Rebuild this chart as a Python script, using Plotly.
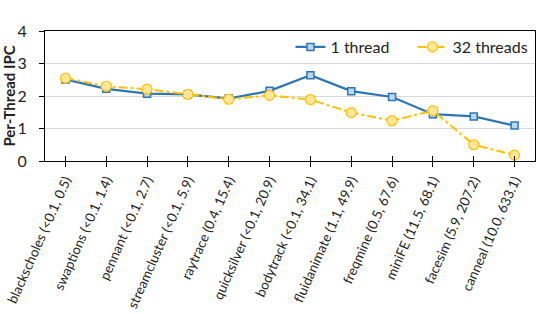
import plotly.graph_objects as go

categories = ["blackscholes (<0.1, 0.5)", "swaptions (<0.1, 1.4)", "pennant (<0.1, 2.7)",
              "streamcluster (<0.1, 5.9)", "raytrace (0.4, 15.4)", "quicksilver (<0.1, 20.9)",
              "bodytrack (<0.1, 34.1)", "fluidanimate (1.1, 49.9)", "freqmine (0.5, 67.6)",
              "miniFE (11.5, 68.1)", "facesim (5.9, 207.2)", "canneal (10.0, 633.1)"]
one_thread = [2.51, 2.22, 2.07, 2.05, 1.92, 2.16, 2.64, 2.15, 1.97, 1.44, 1.37, 1.09]
thirty_two = [2.55, 2.30, 2.21, 2.05, 1.90, 2.02, 1.89, 1.49, 1.24, 1.55, 0.50, 0.18]
y_ticks = [0, 1, 2, 3, 4]

FONT = "Lato, Open Sans, sans-serif"
BLUE = "#2e75b6"
YEL = "#ffc000"

fig = go.Figure()
fig.add_trace(go.Scatter(
    x=categories, y=one_thread, name="1 thread", mode="lines+markers",
    line=dict(color=BLUE, width=2.25),
    marker=dict(symbol="square", size=7, color="#bdd7ee", line=dict(color=BLUE, width=1.5)),
))
fig.add_trace(go.Scatter(
    x=categories, y=thirty_two, name="32 threads", mode="lines+markers",
    line=dict(color=YEL, width=2, dash="dashdot"),
    marker=dict(symbol="circle", size=10, color="#ffe699", line=dict(color=YEL, width=1.2)),
))

fig.update_layout(
    width=538, height=314,
    margin=dict(l=45, r=3, t=31, b=153),
    paper_bgcolor="white", plot_bgcolor="white",
    font=dict(family=FONT, size=14, color="#222"),
    showlegend=True,
    legend=dict(orientation="h", x=0.999, y=0.877, xanchor="right", yanchor="middle",
                bgcolor="rgba(0,0,0,0)", font=dict(size=16, family=FONT),
                itemwidth=30, tracegroupgap=0, entrywidth=77, entrywidthmode="pixels"),
    xaxis=dict(
        type="category", categoryorder="array", categoryarray=categories,
        range=[-0.5, len(categories) - 0.5], automargin=False,
        showline=True, linecolor="black", linewidth=1.2, mirror=True,
        ticks="outside", ticklen=5, tickcolor="black", tickwidth=1,
        tickangle=-66, tickfont=dict(size=13.5, family=FONT),
        showgrid=False, zeroline=False,
    ),
    xaxis2=dict(
        overlaying="x", type="linear", range=[-0.5, len(categories) - 0.5],
        tickvals=list(range(len(categories))), ticks="inside", ticklen=5,
        tickcolor="black", tickwidth=1, showticklabels=False, showgrid=False,
        zeroline=False, showline=False, anchor="y", automargin=False,
    ),
    yaxis=dict(
        range=[0, 4], tickvals=y_ticks, automargin=False,
        showline=True, linecolor="black", linewidth=1.2, mirror=True,
        ticks="outside", ticklen=5, tickcolor="black",
        showgrid=True, gridcolor="#d9d9d9", gridwidth=1, zeroline=False,
        tickfont=dict(size=16, family=FONT),
        ticklabelstandoff=9,
        title=dict(text="<b>Per-Thread IPC</b>", font=dict(size=15, family=FONT), standoff=1),
    ),
)
fig.add_trace(go.Scatter(x=[0], y=[None], xaxis="x2", showlegend=False, hoverinfo="skip"))

fig.write_html("out.html", config={"displayModeBar": False},
               post_script="document.body.style.margin='0';document.body.style.overflow='hidden';")
